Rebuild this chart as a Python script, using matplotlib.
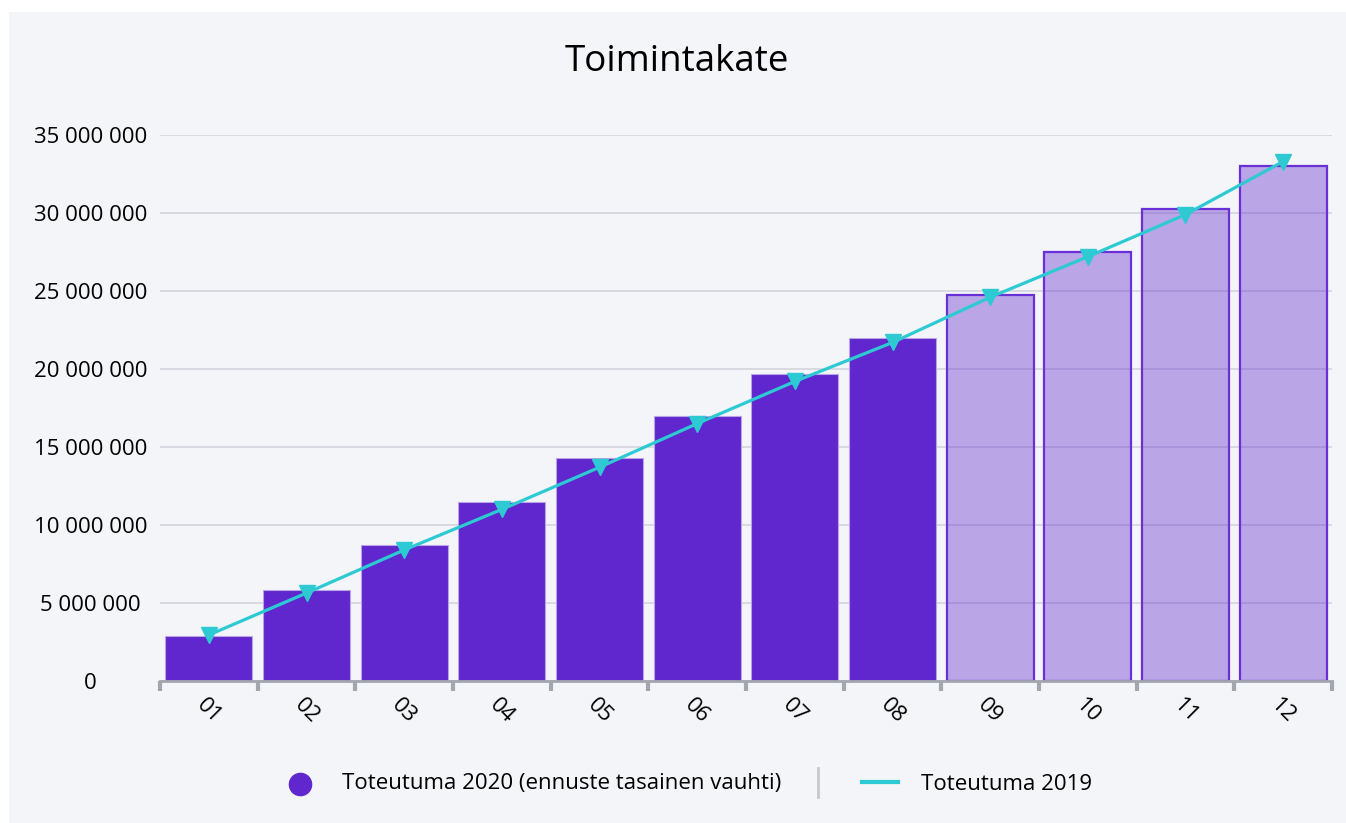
import numpy as np
import matplotlib.pyplot as plt
from matplotlib.lines import Line2D

plt.rcParams['font.family'] = ['Open Sans', 'DejaVu Sans']

months = ['01', '02', '03', '04', '05', '06', '07', '08', '09', '10', '11', '12']
toteutuma_2020 = [2.88e6, 5.83e6, 8.72e6, 11.47e6, 14.3e6, 16.99e6, 19.68e6, 21.99e6,
                  24.74e6, 27.5e6, 30.26e6, 33.0e6]
ennuste = [False] * 8 + [True] * 4   # months 09-12 are forecast
toteutuma_2019 = [2.95e6, 5.64e6, 8.4e6, 11.0e6, 13.7e6, 16.5e6, 19.2e6, 21.7e6,
                  24.6e6, 27.2e6, 29.9e6, 33.3e6]
yticks = [0, 5e6, 10e6, 15e6, 20e6, 25e6, 30e6, 35e6]
legend_labels = ['Toteutuma 2020 (ennuste tasainen vauhti)', 'Toteutuma 2019']

purple = '#5f27cd'
teal = '#2ecad4'
bg = '#f4f5f9'
W, H = 1346, 823

fig = plt.figure(figsize=(W / 100, H / 100), dpi=100)
fig.patch.set_facecolor('white')
fig.patches.append(plt.Rectangle((9 / W, 0), 1, 1 - 12 / H, transform=fig.transFigure,
                                 facecolor=bg, edgecolor='none', zorder=-10))

ax = fig.add_axes([160 / W, 1 - 681 / H, 1172 / W, (681 - 135) / H])
ax.set_facecolor(bg)

x = np.arange(len(months))
for xi, v, f in zip(x, toteutuma_2020, ennuste):
    if f:
        ax.bar(xi, v, width=0.89, color=purple, alpha=0.39, zorder=2)
        ax.bar(xi, v, width=0.89, facecolor='none', edgecolor='#6a30d8', linewidth=1.6, zorder=2)
    else:
        ax.bar(xi, v, width=0.89, color=purple, edgecolor='#b9a4e8', linewidth=0.8, zorder=2)

ax.plot(x, toteutuma_2019, color=teal, linewidth=2.3, marker='v', markersize=12,
        markeredgecolor=teal, zorder=3)

ax.set_xlim(-0.5, 11.5)
ax.set_ylim(0, 35e6)
ax.set_yticks(yticks)
ax.set_yticklabels([f'{int(v):,}'.replace(',', ' ') for v in yticks])
ax.tick_params(axis='y', length=0, pad=50, labelsize=16)
for lab in ax.get_yticklabels():
    lab.set_horizontalalignment('center')
ax.yaxis.grid(True, color='#d2d3da', linewidth=1.1, zorder=0)
ax.set_axisbelow(True)

ax.set_xticks(x)
ax.set_xticklabels(months, rotation=-45, ha='center', va='top')
ax.set_xticks(np.arange(-0.5, 12, 1), minor=True)
ax.tick_params(axis='x', which='major', length=0, pad=10, labelsize=16)
ax.tick_params(axis='x', which='minor', length=7, width=3, color='#a3a6ae', direction='out')

for s in ['top', 'right', 'left']:
    ax.spines[s].set_visible(False)
ax.spines['bottom'].set_color('#a3a6ae')
ax.spines['bottom'].set_linewidth(2)
ax.spines['bottom'].set_zorder(4)

fig.text(677 / W, 1 - 62 / H, 'Toimintakate', ha='center', va='center', fontsize=26.5)

# legend drawn by hand to match the spacing and the separator
ly = 1 - 784 / H
fig.add_artist(Line2D([300 / W], [ly], transform=fig.transFigure, linestyle='none',
                      marker='o', markersize=16, color=purple))
fig.text(342 / W, ly, legend_labels[0], ha='left', va='center', fontsize=16)
fig.add_artist(Line2D([818 / W, 818 / W], [1 - 768 / H, 1 - 797 / H],
                      transform=fig.transFigure, color='#c8c8cc', linewidth=2))
fig.add_artist(Line2D([862 / W, 898 / W], [1 - 782 / H, 1 - 782 / H],
                      transform=fig.transFigure, color=teal, linewidth=3))
fig.text(921 / W, ly, legend_labels[1], ha='left', va='center', fontsize=16)

fig.savefig('out.png', dpi=100, facecolor=fig.get_facecolor())
